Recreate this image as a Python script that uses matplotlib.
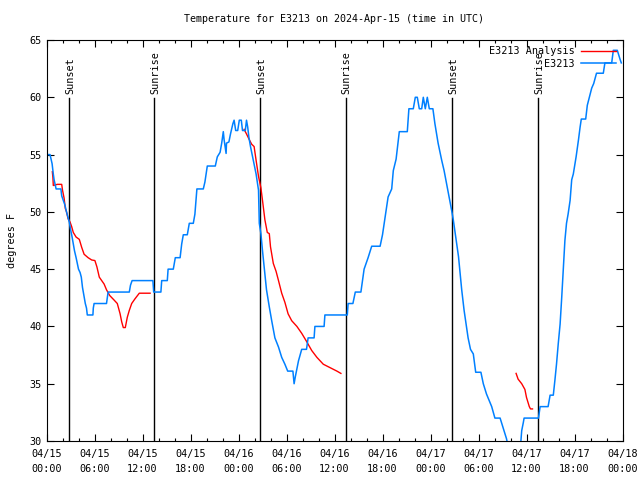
import numpy as np
import matplotlib
matplotlib.use("Agg")
import matplotlib.pyplot as plt

# hours since 2024-04-15 00:00 UTC
blue_h = [0.0, 0.44, 0.7, 0.85, 0.95, 1.2, 1.8, 1.9, 2.1, 2.3, 2.5, 2.7, 2.85, 3.0, 3.2, 3.35,
          3.5, 3.7, 3.85, 4.0, 4.2, 4.35, 4.5, 4.7, 4.85, 5.0, 5.1, 5.8, 5.85, 5.95, 7.5, 7.6,
          7.7, 10.35, 10.5, 10.7, 13.3, 13.4, 14.3, 14.4, 15.1, 15.2, 15.85, 16.1, 16.7, 16.9,
          17.1, 17.6, 17.85, 18.35, 18.55, 18.8, 19.6, 19.8, 20.1, 21.1, 21.35, 21.7, 21.9,
          22.1, 22.2, 22.45, 22.5, 22.8, 23.0, 23.3, 23.45, 23.65, 23.9, 24.1, 24.35, 24.5,
          24.85, 25.0, 25.15, 25.3, 25.5, 25.85, 26.2, 26.5, 26.6, 26.8, 27.0, 27.3, 27.5,
          27.85, 28.15, 28.55, 29.0, 29.4, 29.8, 30.15, 30.8, 30.95, 31.1, 31.5, 31.9, 32.5,
          32.7, 33.45, 33.55, 34.7, 34.8, 37.6, 37.7, 38.3, 38.6, 39.3, 39.5, 39.7, 40.2,
          40.65, 41.7, 42.0, 42.3, 42.7, 43.15, 43.35, 43.7, 44.1, 45.1, 45.3, 45.85, 46.1,
          46.35, 46.6, 46.9, 47.1, 47.35, 47.6, 47.85, 48.3, 48.55, 48.95, 49.4, 49.7, 50.0,
          50.35, 50.65, 50.85, 51.2, 51.5, 51.7, 51.9, 52.2, 52.45, 52.7, 53.0, 53.35, 53.65,
          54.3, 54.6, 55.0, 55.35, 55.65, 56.05, 56.7, 57.1, 57.5, 57.8, 58.0, 58.9, 59.3,
          59.4, 59.6, 59.7, 61.5, 61.7, 62.7, 62.95, 63.35, 63.55, 63.75, 63.97, 64.2, 64.4,
          64.6, 64.8, 65.0, 65.2, 65.45, 65.65, 65.85, 66.2, 66.5, 66.7, 66.85, 67.4, 67.6,
          67.85, 68.15, 68.4, 68.75, 69.6, 69.8, 70.65, 70.85, 71.35, 71.7, 71.85]
blue_t = [55.0, 55.0, 54.2, 53.3, 52.8, 52.0, 52.0, 51.4, 51.0, 50.6, 50.0, 49.5, 49.1, 48.5, 47.8, 47.2,
          46.6, 46.0, 45.5, 45.0, 44.7, 44.3, 43.4, 42.6, 42.0, 41.6, 41.0, 41.0, 41.6, 42.0, 42.0, 42.5,
          43.0, 43.0, 43.6, 44.0, 44.0, 43.0, 43.0, 44.0, 44.0, 45.0, 45.0, 46.0, 46.0, 47.2,
          48.0, 48.0, 49.0, 49.0, 49.8, 52.0, 52.0, 52.6, 54.0, 54.0, 54.8, 55.2, 56.0,
          57.0, 56.3, 55.1, 56.0, 56.1, 56.8, 57.7, 58.0, 57.1, 57.1, 58.0, 58.0, 57.1,
          57.1, 58.0, 57.4, 56.5, 55.7, 54.5, 53.3, 51.9, 49.0, 48.1, 46.6, 44.6, 43.2,
          41.7, 40.5, 39.0, 38.2, 37.3, 36.7, 36.1, 36.1, 35.0, 35.6, 37.0, 38.0, 38.0,
          39.0, 39.0, 40.0, 40.0, 41.0, 41.0, 42.0, 42.0, 43.0, 43.0, 44.0, 45.0, 46.0,
          47.0, 47.0, 48.0, 49.4, 51.3, 52.0, 53.6, 54.6, 57.0, 57.0, 59.0, 59.0, 60.0,
          60.0, 59.0, 59.0, 60.0, 59.0, 60.0, 59.0, 59.0, 57.7, 56.0, 54.5, 53.6, 52.5,
          51.2, 50.1, 49.3, 47.6, 46.1, 44.6, 43.2, 41.4, 40.2, 39.0, 38.0, 37.6, 36.0,
          36.0, 35.0, 34.1, 33.5, 33.0, 32.0, 32.0, 31.1, 30.2, 29.2, 28.8, 28.8, 30.0,
          30.9, 31.6, 32.0, 32.0, 33.0, 33.0, 34.0, 34.0, 35.3, 36.7, 38.5, 40.2, 42.5,
          45.0, 47.5, 49.0, 49.8, 51.0, 52.8, 53.3, 54.8, 56.3, 57.4, 58.1, 58.1, 59.3,
          60.0, 60.8, 61.2, 62.1, 62.1, 63.0, 63.0, 64.1, 64.1, 63.3, 63.0]

red_h = [0.73, 0.8, 0.85, 1.35, 1.9, 2.0, 2.2, 2.35, 2.5, 2.7, 2.95, 3.15, 3.35, 3.7, 4.1, 4.4,
         4.7, 5.2, 5.65, 6.05, 6.3, 6.6, 6.9, 7.2, 7.5, 7.9, 8.45, 8.85, 9.2, 9.4, 9.6, 9.85,
         10.1, 10.35, 10.65, 11.05, 11.6, 12.95, np.nan,
         24.7, 25.0, 25.35, 25.65, 25.95, 26.2, 26.5, 26.8, 27.0, 27.3, 27.6, 27.85, 28.0,
         28.35, 28.7, 29.0, 29.4, 29.8, 30.2, 30.65, 31.3, 31.9, 32.5, 33.15, 33.8, 34.6,
         35.45, 36.3, 36.8, np.nan,
         58.7, 58.95, 59.4, 59.8, 60.0, 60.35, 60.5, 60.75]
red_t = [53.5, 53.0, 52.3, 52.4, 52.4, 51.9, 51.2, 50.3, 50.0, 49.4, 49.1, 48.7, 48.2, 47.8, 47.6, 46.9,
         46.3, 46.0, 45.8, 45.75, 45.2, 44.3, 44.0, 43.7, 43.2, 42.7, 42.3, 42.0, 41.1, 40.4, 39.9, 39.9,
         40.8, 41.4, 42.0, 42.4, 42.9, 42.9, np.nan,
         57.2, 56.8, 56.3, 55.9, 55.7, 54.5, 53.1, 52.1, 51.0, 49.3, 48.2, 48.1, 46.95,
         45.5, 44.8, 44.0, 42.9, 42.1, 41.1, 40.5, 40.0, 39.4, 38.7, 37.9, 37.3, 36.7,
         36.4, 36.1, 35.9, np.nan,
         35.9, 35.4, 35.0, 34.5, 33.8, 33.0, 32.8, 32.8]

sun_h = [2.85, 13.45, 26.7, 37.4, 50.7, 61.45]
sun_lbl = ["Sunset", "Sunrise", "Sunset", "Sunrise", "Sunset", "Sunrise"]

tick_h = [0, 6, 12, 18, 24, 30, 36, 42, 48, 54, 60, 66, 72]
tick_lbl = ["04/15\n00:00", "04/15\n06:00", "04/15\n12:00", "04/15\n18:00",
            "04/16\n00:00", "04/16\n06:00", "04/16\n12:00", "04/16\n18:00",
            "04/17\n00:00", "04/17\n06:00", "04/17\n12:00", "04/17\n18:00",
            "04/18\n00:00"]

plt.rcParams['font.family'] = ['DejaVu Sans Mono']
fig = plt.figure(figsize=(6.4, 4.8), dpi=100)
ax = fig.add_axes([46.5 / 640, 39 / 480, 576 / 640, 401 / 480])

for h, lbl in zip(sun_h, sun_lbl):
    ax.plot([h, h], [30, 59.9], color='black', lw=1.0)
    ax.text(h + 0.1, 60.3, lbl, rotation=90, ha='center', va='bottom', fontsize=7.3)

ax.plot(red_h, red_t, color='#ff0000', lw=1.0, label='E3213 Analysis')
ax.plot(blue_h, blue_t, color='#0080ff', lw=1.1, label='E3213')

ax.set_xlim(0, 72)
ax.set_ylim(30, 65)
ax.set_xticks(tick_h)
ax.set_xticklabels(tick_lbl, fontsize=7.3, linespacing=1.6)
ax.set_xticks(np.arange(0, 73, 2), minor=True)
ax.set_yticks(np.arange(30, 66, 5))
ax.tick_params(axis='y', labelsize=7.3)
ax.tick_params(which='major', direction='in', length=5, top=True, right=True, width=0.8)
ax.tick_params(which='minor', direction='in', length=2.5, top=True, width=0.8)
ax.tick_params(axis='x', pad=6)
for s in ax.spines.values():
    s.set_linewidth(0.8)

ax.set_ylabel('degrees F', fontsize=7.3, labelpad=9)
ax.set_title('Temperature for E3213 on 2024-Apr-15 (time in UTC)', fontsize=7.2, pad=13)

leg = ax.legend(loc='upper right', frameon=False, fontsize=7.3, markerfirst=False,
                handlelength=3.5, handletextpad=0.6, borderaxespad=0.2, labelspacing=0.25)

fig.savefig('out.png', dpi=100)
